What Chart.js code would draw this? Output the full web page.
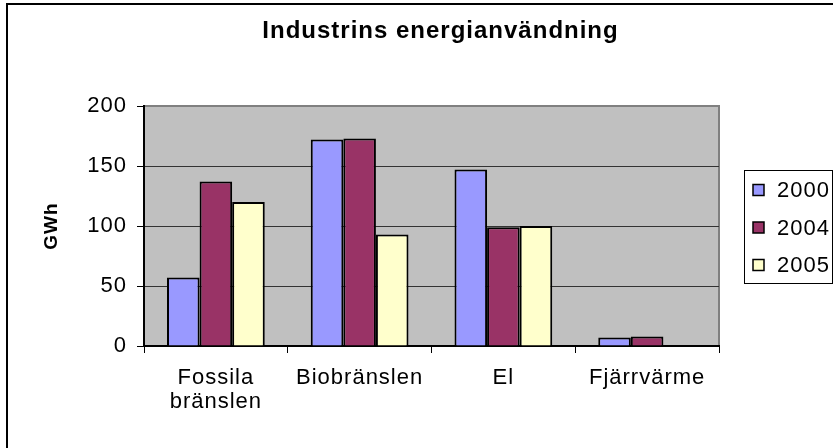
<!DOCTYPE html>
<html>
<head>
<meta charset="utf-8">
<script src="https://cdn.jsdelivr.net/npm/chart.js@4.4.1/dist/chart.umd.min.js"></script>
<style>
  html, body { margin: 0; padding: 0; background: #fff; }
  #wrap { width: 833px; height: 448px; position: relative; }
</style>
</head>
<body>
<div id="wrap"><canvas id="chart"></canvas></div>
<script>
// Data (GWh)
const categories = [["Fossila", "bränslen"], "Biobränslen", "El", "Fjärrvärme"];
const seriesNames = ["2000", "2004", "2005"];
const values2000 = [57, 172, 147, 7];
const values2004 = [137, 173, 99, 8];
const values2005 = [120, 93, 100, null];
const seriesColors = ["#9999FF", "#993366", "#FFFFCC"];
const yTicks = [0, 50, 100, 150, 200];

const FONT = '"Liberation Sans", Arial, sans-serif';

// Excel-like plot background, plot frame and outer chart border
const backgroundPlugin = {
  id: "excelBackground",
  beforeDraw(chart) {
    const { ctx, chartArea: a, width, height } = chart;
    ctx.save();
    ctx.fillStyle = "#fff";
    ctx.fillRect(0, 0, width, height);
    ctx.strokeStyle = "#000";
    ctx.lineWidth = 2;
    ctx.strokeRect(7, 4, width + 20, height + 20);
    ctx.fillStyle = "#C0C0C0";
    ctx.fillRect(a.left, a.top, a.right - a.left, a.bottom - a.top);
    ctx.strokeStyle = "#808080";
    ctx.lineWidth = 2;
    ctx.beginPath();
    ctx.moveTo(a.left, a.top);
    ctx.lineTo(a.right, a.top);
    ctx.lineTo(a.right, a.bottom);
    ctx.stroke();
    ctx.restore();
  },
};

// Boxed legend on the right, like the Excel original
const boxedLegendPlugin = {
  id: "boxedLegend",
  afterDraw(chart) {
    const ctx = chart.ctx;
    const box = { left: 744.5, top: 170.5, width: 88, height: 113 };
    const firstRow = 190;
    const rowGap = 37.5;
    ctx.save();
    ctx.strokeStyle = "#000";
    ctx.lineWidth = 1;
    ctx.strokeRect(box.left, box.top, box.width, box.height);
    chart.data.datasets.forEach((ds, i) => {
      const cy = firstRow + i * rowGap;
      ctx.fillStyle = ds.backgroundColor;
      ctx.fillRect(753, cy - 5.5, 11, 11);
      ctx.lineWidth = 1.5;
      ctx.strokeRect(753, cy - 5.5, 11, 11);
      ctx.fillStyle = "#000";
      ctx.font = `22px ${FONT}`;
      ctx.textAlign = "left";
      ctx.textBaseline = "middle";
      ctx.fillText(ds.label, 777, cy + 1);
    });
    ctx.restore();
  },
};

// The original text is set a little wide
const spacingPlugin = {
  id: "letterSpacing",
  beforeLayout(chart) { chart.ctx.letterSpacing = "1px"; },
  beforeDraw(chart) { chart.ctx.letterSpacing = "1px"; },
};

const datasets = [values2000, values2004, values2005].map((vals, i) => ({
  label: seriesNames[i],
  data: vals,
  backgroundColor: seriesColors[i],
  borderColor: "#000",
  borderWidth: 2,
  borderSkipped: "start",
  categoryPercentage: 0.68,
  barPercentage: 1.0,
}));

new Chart(document.getElementById("chart"), {
  type: "bar",
  data: { labels: categories, datasets: datasets },
  options: {
    responsive: true,
    maintainAspectRatio: false,
    animation: false,
    devicePixelRatio: 1,
    // left padding shifts the (full-width) title to the right, as in the cropped original
    layout: { padding: { left: 48, right: 0, top: 0, bottom: 0 } },
    plugins: {
      legend: { display: false },
      tooltip: { enabled: false },
      title: {
        display: true,
        text: "Industrins energianvändning",
        color: "#000",
        font: { family: FONT, size: 24, weight: "bold", lineHeight: 1.1 },
        padding: { top: 17.8, bottom: 61.8 },
      },
    },
    scales: {
      x: {
        grid: {
          display: true,
          drawOnChartArea: false,
          drawTicks: true,
          tickLength: 7,
          tickColor: "#000",
          offset: true,
        },
        border: { color: "#000", width: 2 },
        ticks: {
          color: "#000",
          font: { family: FONT, size: 22, lineHeight: 1.1 },
          padding: 13,
          maxRotation: 0,
          autoSkip: false,
        },
        afterFit: (s) => { s.height = 102; },
      },
      y: {
        min: 0,
        max: 200,
        afterBuildTicks: (s) => { s.ticks = yTicks.map((v) => ({ value: v })); },
        ticks: {
          color: "#000",
          font: { family: FONT, size: 22 },
          padding: 10,
        },
        grid: {
          color: (c) => (c.tick && (c.tick.value === 0 || c.tick.value === 200) ? "rgba(0,0,0,0)" : "#333"),
          lineWidth: 1,
          tickColor: "#000",
          tickLength: 7,
        },
        border: { color: "#000", width: 2 },
        title: {
          display: true,
          text: "GWh",
          color: "#000",
          font: { family: FONT, size: 19, weight: "bold", lineHeight: 1.2 },
          padding: { top: -7.4, bottom: 0 },
        },
        afterFit: (s) => { s.width = 96; },
      },
      // empty right-hand box that keeps room for the legend
      legendSpace: {
        type: "linear",
        position: "right",
        display: true,
        grid: { display: false, drawTicks: false },
        border: { display: false },
        ticks: { display: false },
        afterFit: (s) => { s.width = 114; },
      },
    },
  },
  plugins: [backgroundPlugin, boxedLegendPlugin, spacingPlugin],
});
</script>
</body>
</html>
